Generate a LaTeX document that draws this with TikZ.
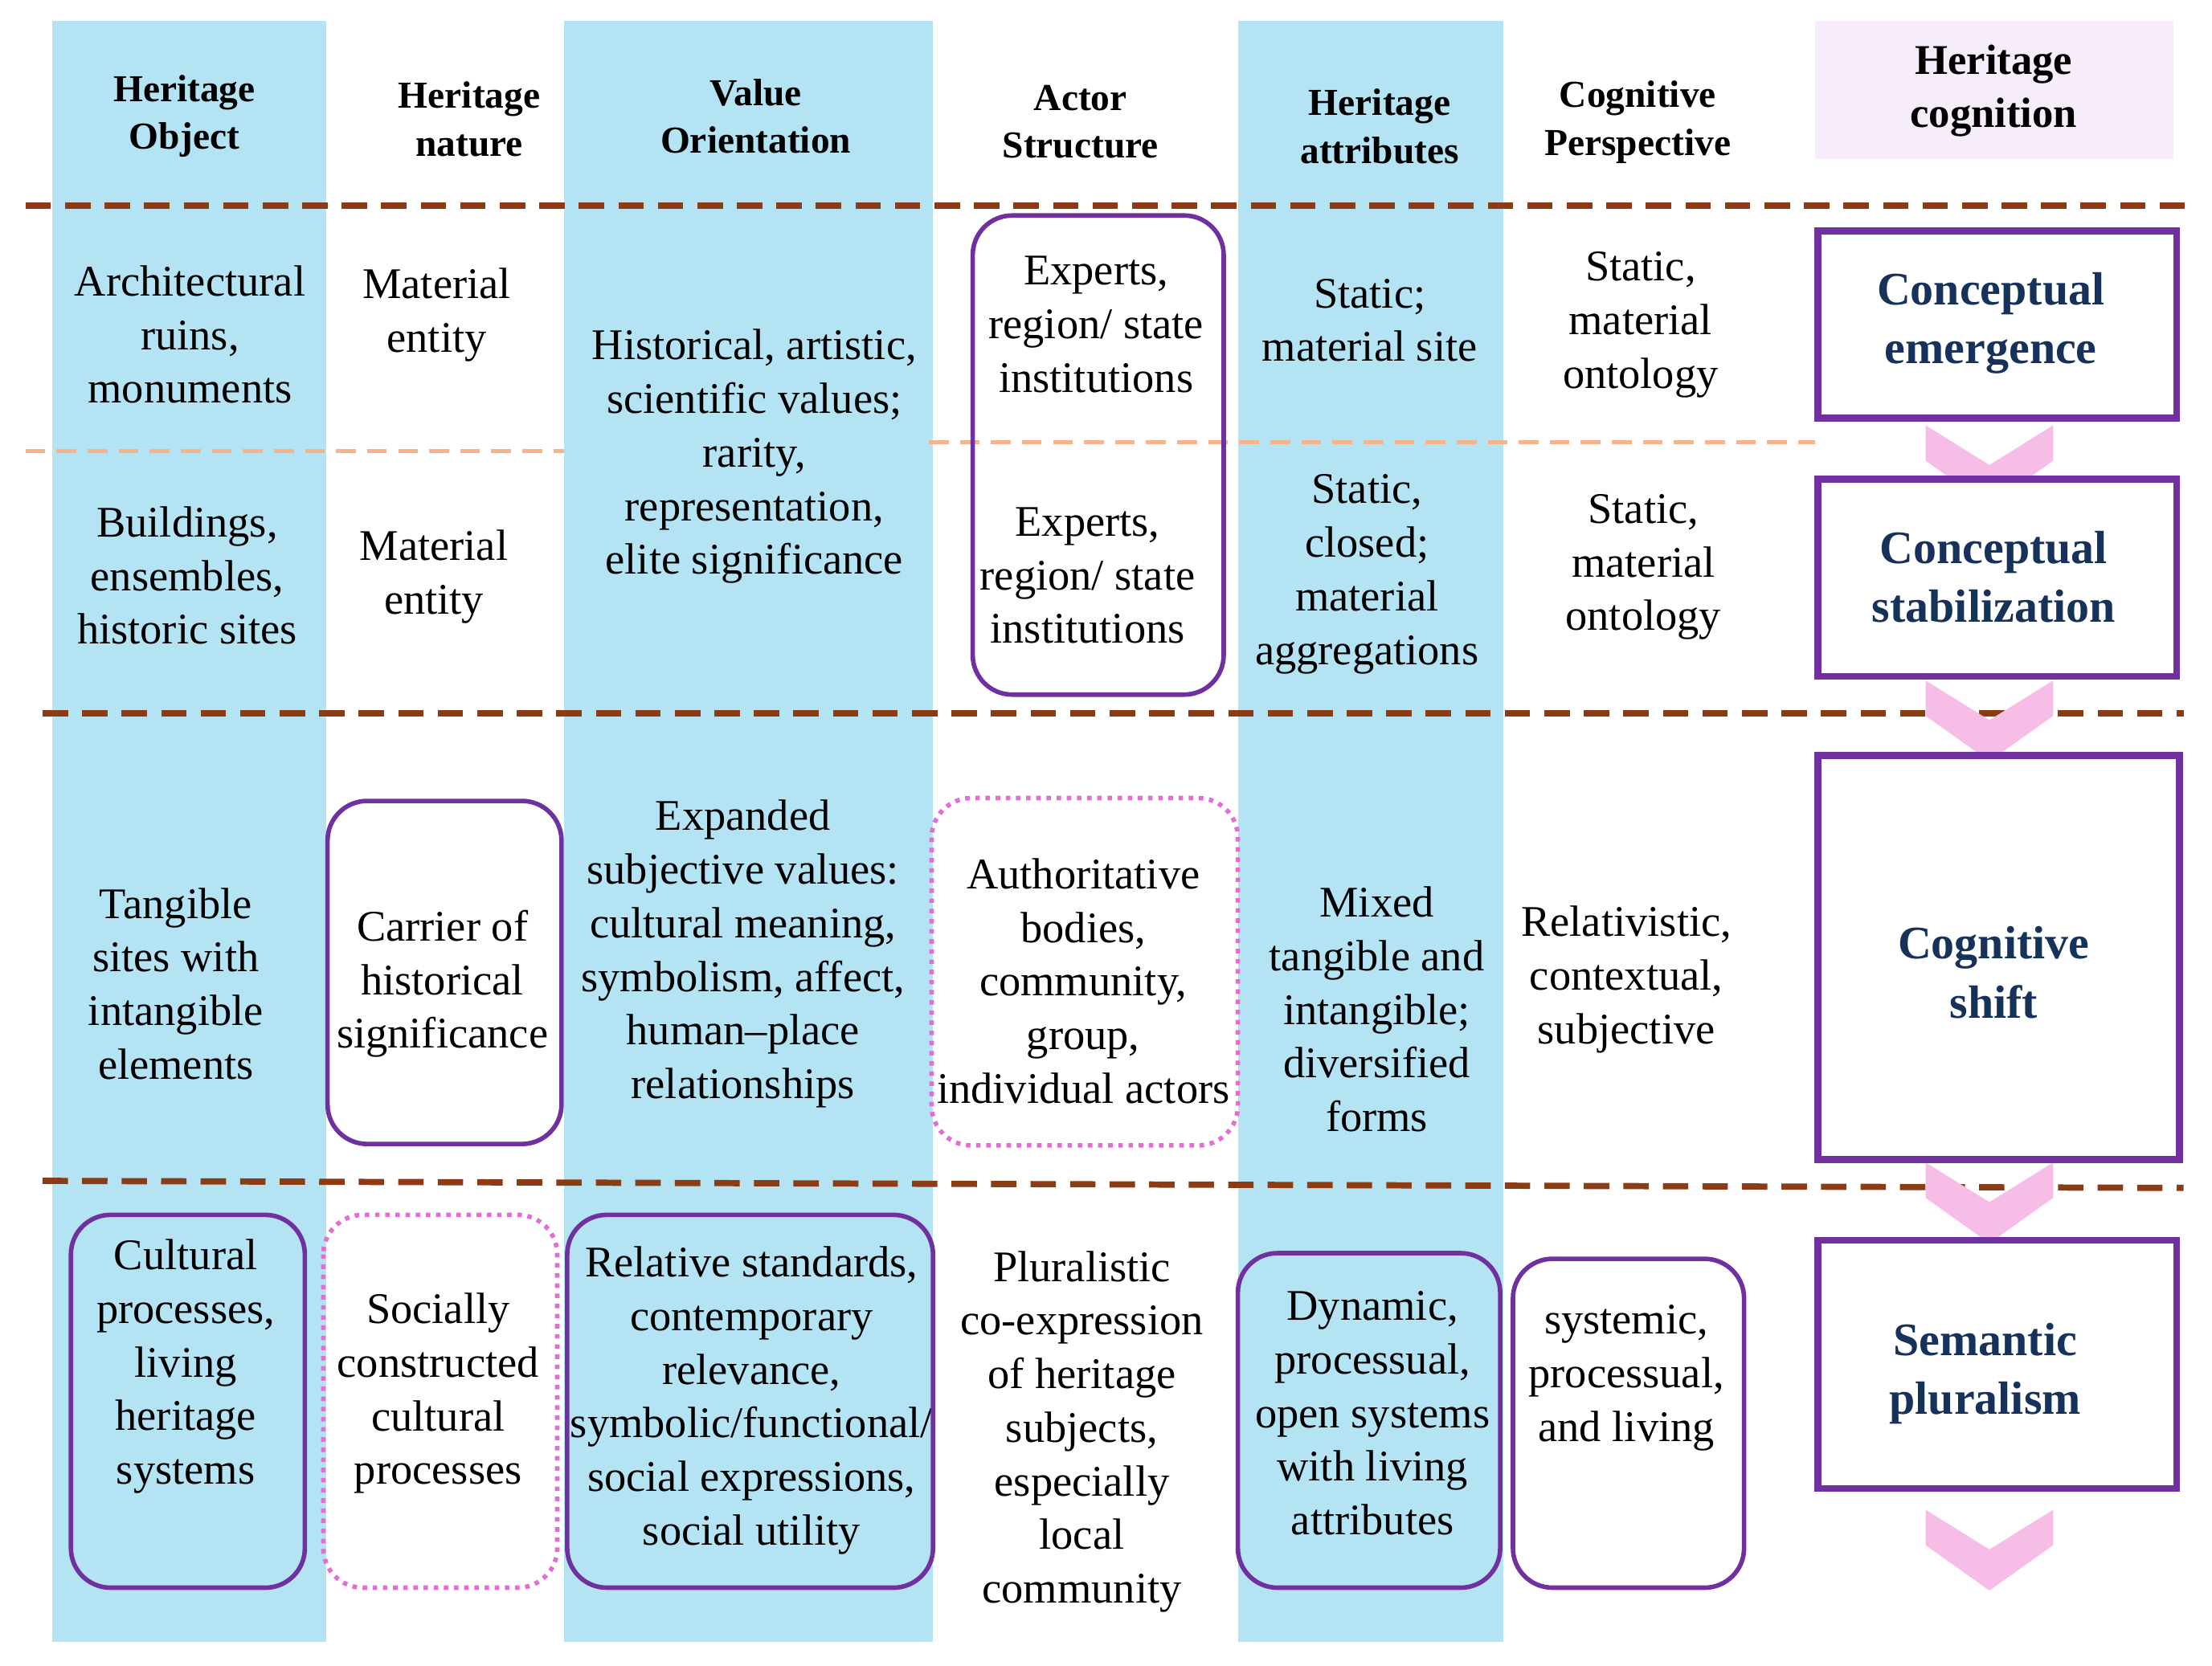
\documentclass[tikz,border=0pt]{standalone}
\usepackage{fontspec}
\setmainfont{Liberation Serif}
\definecolor{colblue}{RGB}{180,228,244}
\definecolor{darkbrown}{RGB}{140,60,20}
\definecolor{lightorange}{RGB}{246,180,140}
\definecolor{boxpurple}{RGB}{112,48,160}
\definecolor{dotpink}{RGB}{226,110,210}
\definecolor{headpink}{RGB}{246,236,250}
\definecolor{chevpink}{RGB}{246,190,230}
\definecolor{navy}{RGB}{22,50,90}
\tikzset{
  head/.style={font=\fontsize{13.5}{17}\selectfont\bfseries, align=center},
  cell/.style={font=\fontsize{15.5}{19}\selectfont, align=center},
  stage/.style={font=\fontsize{16.5}{21}\selectfont\bfseries, align=center, text=navy},
  rbox/.style={draw=boxpurple, line width=1.6pt, rounded corners=14pt},
  pbox/.style={draw=dotpink, line width=1.6pt, dotted, rounded corners=14pt},
  sbox/.style={draw=boxpurple, line width=2.4pt},
  bigdash/.style={draw=darkbrown, line width=2.2pt, dash pattern=on 9pt off 5pt},
  smalldash/.style={draw=lightorange, line width=1.4pt, dash pattern=on 7pt off 4pt},
  chev/.style={fill=chevpink, draw=none}
}
\begin{document}
\begin{tikzpicture}[x=0.01765cm, y=-0.01765cm]
\useasboundingbox (0,0) rectangle (1560,1175);
% columns
\foreach \a/\b in {37/230, 398/658, 873/1060}
  \fill[colblue] (\a,15) rectangle (\b,1158);
\fill[headpink] (1280,15) rectangle (1533,112);
% headers
\node[head] (h1) at (130,82) {Heritage\\Object};
\node[head] (h2) at (331,84) {Heritage\\nature};
\node[head] (h3) at (533,82) {Value\\Orientation};
\node[head] (h4) at (762,86) {Actor\\Structure};
\node[head] (h5) at (973,89) {Heritage\\attributes};
\node[head] (h6) at (1155,86) {Cognitive\\Perspective};
\node[head, font=\fontsize{15}{19}\selectfont\bfseries] (h7) at (1406,64) {Heritage\\cognition};
% separators
\draw[bigdash] (18,145) -- (1545,145);
\draw[bigdash] (30,503) -- (1540,503);
\draw[bigdash] (30,833) -- (1540,838);
\draw[smalldash] (18,318) -- (398,318);
\draw[smalldash] (655,312) -- (1280,312);
% row 1
\node[cell] (r1c1) at (134,236) {Architectural\\ruins,\\monuments};
\node[cell] (r1c2) at (308,222) {Material\\entity};
\node[cell] (r1c4) at (773,229) {Experts,\\region/ state\\institutions};
\node[cell] (r1c5) at (966,226) {Static;\\material site};
\node[cell] (r1c6) at (1157,229) {Static,\\material\\ontology};
% row 2
\node[cell] (r2c1) at (132,406) {Buildings,\\ensembles,\\historic sites};
\node[cell] (r2c2) at (306,407) {Material\\entity};
\node[cell] (r2c4) at (767,406) {Experts,\\region/ state\\institutions};
\node[cell] (r2c5) at (964,405) {Static,\\closed;\\material\\aggregations};
\node[cell] (r2c6) at (1159,400) {Static,\\material\\ontology};
\node[cell] (r12c3) at (532,322) {Historical, artistic,\\scientific values;\\rarity,\\representation,\\elite significance};
\draw[rbox] (686,152) rectangle (863,490);
% row 3
\node[cell] (r3c1) at (124,694) {Tangible\\sites with\\intangible\\elements};
\node[cell] (r3c2) at (312,694) {Carrier of\\historical\\significance};
\node[cell] (r3c3) at (524,673) {Expanded\\subjective values:\\cultural meaning,\\symbolism, affect,\\human--place\\relationships};
\node[cell] (r3c4) at (764,692) {Authoritative\\bodies,\\community,\\group,\\individual actors};
\node[cell] (r3c5) at (971,712) {Mixed\\tangible and\\intangible;\\diversified\\forms};
\node[cell] (r3c6) at (1147,691) {Relativistic,\\contextual,\\subjective};
\draw[rbox] (231,565) rectangle (396,807);
\draw[pbox] (657,563) rectangle (873,808);
% row 4
\node[cell] (r4c1) at (131,964) {Cultural\\processes,\\living\\heritage\\systems};
\node[cell] (r4c2) at (309,983) {Socially\\constructed\\cultural\\processes};
\node[cell] (r4c3) at (530,988) {Relative standards,\\contemporary\\relevance,\\symbolic/functional/\\social expressions,\\social utility};
\node[cell] (r4c4) at (763,1010) {Pluralistic\\co-expression\\of heritage\\subjects,\\especially\\local\\community};
\node[cell] (r4c5) at (968,997) {Dynamic,\\processual,\\open systems\\with living\\attributes};
\node[cell] (r4c6) at (1147,972) {systemic,\\processual,\\and living};
\draw[rbox] (50,857) rectangle (215,1120);
\draw[pbox] (228,857) rectangle (393,1120);
\draw[rbox] (400,857) rectangle (658,1120);
\draw[rbox] (873,884) rectangle (1058,1120);
\draw[rbox] (1067,888) rectangle (1230,1120);
% chevrons
\foreach \y in {300,480,820,1065}
  \fill[chev] (1358,\y) -- (1403,\y+28) -- (1448,\y) -- (1448,\y+25) -- (1403,\y+57) -- (1358,\y+25) -- cycle;
% stages
\draw[sbox, fill=white] (1282,163) rectangle (1535,295);
\node[stage] (s1) at (1404,228) {Conceptual\\emergence};
\draw[sbox, fill=white] (1282,338) rectangle (1535,477);
\node[stage] (s2) at (1406,407) {Conceptual\\stabilization};
\draw[sbox, fill=white] (1282,533) rectangle (1537,818);
\node[stage] (s3) at (1406,686) {Cognitive\\shift};
\draw[sbox, fill=white] (1282,875) rectangle (1535,1050);
\node[stage] (s4) at (1400,969) {Semantic\\pluralism};
\end{tikzpicture}
\end{document}
